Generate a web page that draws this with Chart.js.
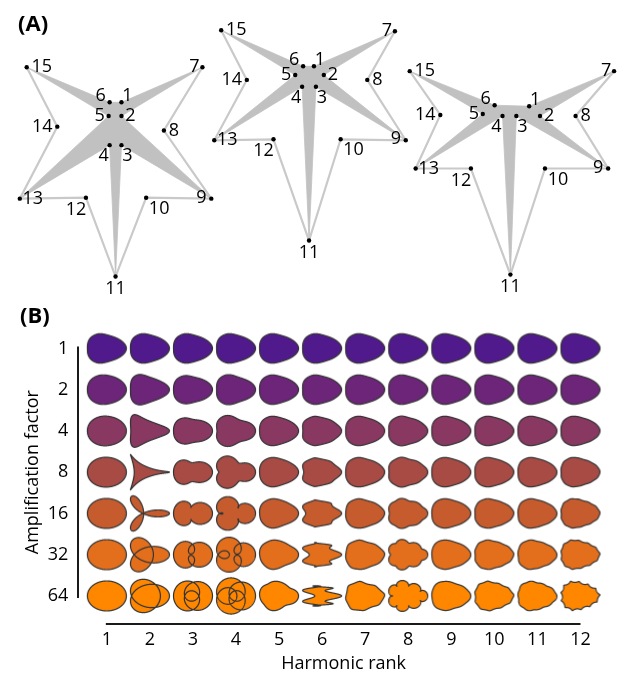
<!DOCTYPE html>
<html>
<head>
<meta charset="utf-8">
<script src="https://cdn.jsdelivr.net/npm/chart.js@4.4.1/dist/chart.umd.min.js"></script>
<style>
  html, body { margin: 0; padding: 0; background: #fff; }
  #wrap { position: relative; width: 623px; height: 678px; }
  #landmarks { position: absolute; left: 0; top: 0; }
  #harmonics { position: absolute; left: 0; top: 300px; }
</style>
</head>
<body>
<div id="wrap">
  <canvas id="landmarks" width="623" height="300" style="width:623px;height:300px"></canvas>
  <canvas id="harmonics" width="623" height="378" style="width:623px;height:378px"></canvas>
</div>
<script>
// ---- (A) landmark configurations, landmark 1..15 ----
const specimen1 = [[119,101],[119,115],[119,145],[107,145],[106,115],[107,101],[201,65],[162,130],
                   [210,200],[144,199],[113,280],[83,199],[16,200],[54,126],[23,65]];
const specimen2 = [[314,64],[324,73],[316,85],[302,85],[295,73],[303,64],[396,28],[368,78],
                   [407,140],[341,139],[309,243],[273,139],[213,140],[246,78],[220,27]];
const specimen3 = [[532,105],[543,115],[519,115],[505,115],[485,113],[497,104],[618,69],[579,115],
                   [612,169],[548,169],[513,278],[473,169],[417,169],[442,114],[411,69]];
const starOrder = [1, 7, 2, 9, 3, 11, 4, 13, 5, 15, 6, 1];
const outlineOrder = [15, 14, 13, 12, 11, 10, 9, 8, 7];

// ---- (B) harmonic amplification grid ----
const harmonicRanks = [1, 2, 3, 4, 5, 6, 7, 8, 9, 10, 11, 12];
const amplificationFactors = [1, 2, 4, 8, 16, 32, 64];
// Fourier coefficients of the mean outline per harmonic
// [counter-clockwise re, im, clockwise re, im]
const outlineCoefs = [
  [1, 0, 0.13, 0],
  [0.006, 0, 0.0625, 0],
  [0.025, 0, 0, 0],
  [0.022, 0, 0, 0],
  [0.0009, 0.0006, 0, 0],
  [0.0045, 0, 0.0045, 0],
  [0, 0, 0.0003, 0.0004],
  [0.0023, 0, 0, 0],
  [0.00015, 0.0001, 0, 0],
  [0, 0, 0.0003, 0.00025],
  [0.0002, 0.00028, 0, 0],
  [0, 0, 0.0006, 0.0005]
];
const rowColors = ['#501a8d', '#6c2579', '#893862', '#a84b45', '#c65c2e', '#e36f1c', '#ff8700'];

const FONT = '"Open Sans", "DejaVu Sans", sans-serif';

// label offsets around each landmark (text centre)
const labelOffsets = [[6,-6],[9,0],[6,11],[-6,11],[-9,0],[-9,-6],[-8,0],[10,0],
                      [-10,-1],[13,11],[0,12],[-10,12],[13,0],[-15,0],[15,0]];

const toXY = p => ({ x: p[0], y: p[1] });

function specimenSets(pts) {
  return [
    { data: starOrder.map(n => toXY(pts[n - 1])), fill: 'shape', backgroundColor: '#c1c1c1',
      borderColor: '#c1c1c1', borderWidth: 0.8, pointRadius: 0, tension: 0, order: 3, clip: false },
    { data: outlineOrder.map(n => toXY(pts[n - 1])), fill: false, borderColor: '#c9c9c9',
      borderWidth: 2.2, pointRadius: 0, tension: 0, order: 2, clip: false },
    { data: pts.map(toXY), showLine: false, pointRadius: 2.2, pointBorderWidth: 0,
      pointBackgroundColor: '#000', order: 1, clip: false, landmarkDots: true }
  ];
}

const landmarkLabels = {
  id: 'landmarkLabels',
  afterDatasetsDraw(chart) {
    const ctx = chart.ctx;
    ctx.save();
    ctx.fillStyle = '#000';
    ctx.font = '18px ' + FONT;
    ctx.textAlign = 'center';
    ctx.textBaseline = 'middle';
    chart.data.datasets.forEach((ds, i) => {
      if (!ds.landmarkDots) return;
      chart.getDatasetMeta(i).data.forEach((pt, j) => {
        ctx.fillText(String(j + 1), pt.x + labelOffsets[j][0], pt.y + labelOffsets[j][1]);
      });
    });
    ctx.font = 'bold 22px ' + FONT;
    ctx.textAlign = 'left';
    ctx.fillText('(A)', 18, 25);
    ctx.restore();
  }
};

new Chart(document.getElementById('landmarks'), {
  type: 'line',
  data: { datasets: [...specimenSets(specimen1), ...specimenSets(specimen2), ...specimenSets(specimen3)] },
  options: {
    responsive: false,
    animation: false,
    events: [],
    layout: { padding: 0 },
    plugins: { legend: { display: false }, tooltip: { enabled: false } },
    scales: {
      x: { type: 'linear', min: 0, max: 623, display: false },
      y: { type: 'linear', min: 0, max: 300, reverse: true, display: false }
    }
  },
  plugins: [landmarkLabels]
});

// outline of the shape with harmonic `rank` multiplied by `amp`
function outline(rank, amp) {
  const pts = [];
  const N = 900;
  for (let i = 0; i < N; i++) {
    const t = i / N * 2 * Math.PI;
    let x = 0, y = 0;
    outlineCoefs.forEach((c, k) => {
      const n = k + 1;
      const f = n === rank ? amp : 1;
      const cs = Math.cos(n * t), sn = Math.sin(n * t);
      x += f * (c[0] * cs - c[1] * sn + c[2] * cs + c[3] * sn);
      y += f * (c[0] * sn + c[1] * cs + c[3] * cs - c[2] * sn);
    });
    pts.push([x, y]);
  }
  return pts;
}

function makeSprite(pts, color) {
  const cv = document.createElement('canvas');
  cv.width = 46; cv.height = 44;
  const g = cv.getContext('2d');
  const xs = pts.map(p => p[0]), ys = pts.map(p => p[1]);
  const x0 = Math.min(...xs), x1 = Math.max(...xs), y0 = Math.min(...ys), y1 = Math.max(...ys);
  const s = Math.min(39 / (x1 - x0), 37 / (y1 - y0));
  const cx = (x0 + x1) / 2, cy = (y0 + y1) / 2;
  g.beginPath();
  pts.forEach(([x, y], i) => {
    const px = 23 + (x - cx) * s, py = 22 - (y - cy) * s;
    if (i) g.lineTo(px, py); else g.moveTo(px, py);
  });
  g.closePath();
  g.fillStyle = color;
  g.fill();
  g.strokeStyle = '#333';
  g.lineWidth = 1.2;
  g.lineJoin = 'round';
  g.stroke();
  return cv;
}

const cells = [];
const sprites = [];
amplificationFactors.forEach((a, r) => {
  harmonicRanks.forEach(h => {
    cells.push({ x: String(h), y: String(a) });
    sprites.push(makeSprite(outline(h, a), rowColors[r]));
  });
});

const rangeFrame = {
  id: 'rangeFrame',
  afterDraw(chart) {
    const { ctx, scales: { x, y } } = chart;
    ctx.save();
    ctx.strokeStyle = '#1a1a1a';
    ctx.lineWidth = 2;
    ctx.beginPath();
    ctx.moveTo(x.left - 7.3, y.getPixelForValue(0) - 2);
    ctx.lineTo(x.left - 7.3, y.getPixelForValue(amplificationFactors.length - 1) + 2);
    ctx.moveTo(x.getPixelForValue(0) - 1, y.bottom + 7.5);
    ctx.lineTo(x.getPixelForValue(harmonicRanks.length - 1), y.bottom + 7.5);
    ctx.stroke();
    ctx.fillStyle = '#000';
    ctx.font = 'bold 22px ' + FONT;
    ctx.textAlign = 'left';
    ctx.textBaseline = 'middle';
    ctx.fillText('(B)', 20, 17);
    ctx.restore();
  }
};

const tickFont = { family: FONT, size: 18 };

new Chart(document.getElementById('harmonics'), {
  type: 'scatter',
  data: {
    datasets: [{
      data: cells,
      pointStyle: ctx => sprites[ctx.dataIndex] || 'circle',
      pointRadius: 20,
      clip: false
    }]
  },
  options: {
    responsive: false,
    animation: false,
    events: [],
    layout: { padding: { top: 15.5, right: 17.3, left: 0, bottom: 0 } },
    plugins: { legend: { display: false }, tooltip: { enabled: false } },
    scales: {
      x: {
        type: 'category',
        labels: harmonicRanks.map(String),
        offset: true,
        position: 'bottom',
        grid: { display: false, drawTicks: false },
        border: { display: false },
        ticks: { font: tickFont, color: '#000', padding: 13, autoSkip: false, maxRotation: 0 },
        title: { display: true, text: 'Harmonic rank', font: tickFont, color: '#000', padding: { top: 0, bottom: 3 } },
        afterFit: s => { s.height = 61.5; }
      },
      y: {
        type: 'category',
        labels: amplificationFactors.map(String),
        offset: true,
        position: 'left',
        grid: { display: false, drawTicks: false },
        border: { display: false },
        ticks: { font: tickFont, color: '#000', padding: 17, autoSkip: false },
        title: { display: true, text: 'Amplification factor', font: tickFont, color: '#000', padding: { top: 22, bottom: 0 } },
        afterFit: s => { s.width = 85.3; }
      }
    }
  },
  plugins: [rangeFrame]
});
</script>
</body>
</html>
